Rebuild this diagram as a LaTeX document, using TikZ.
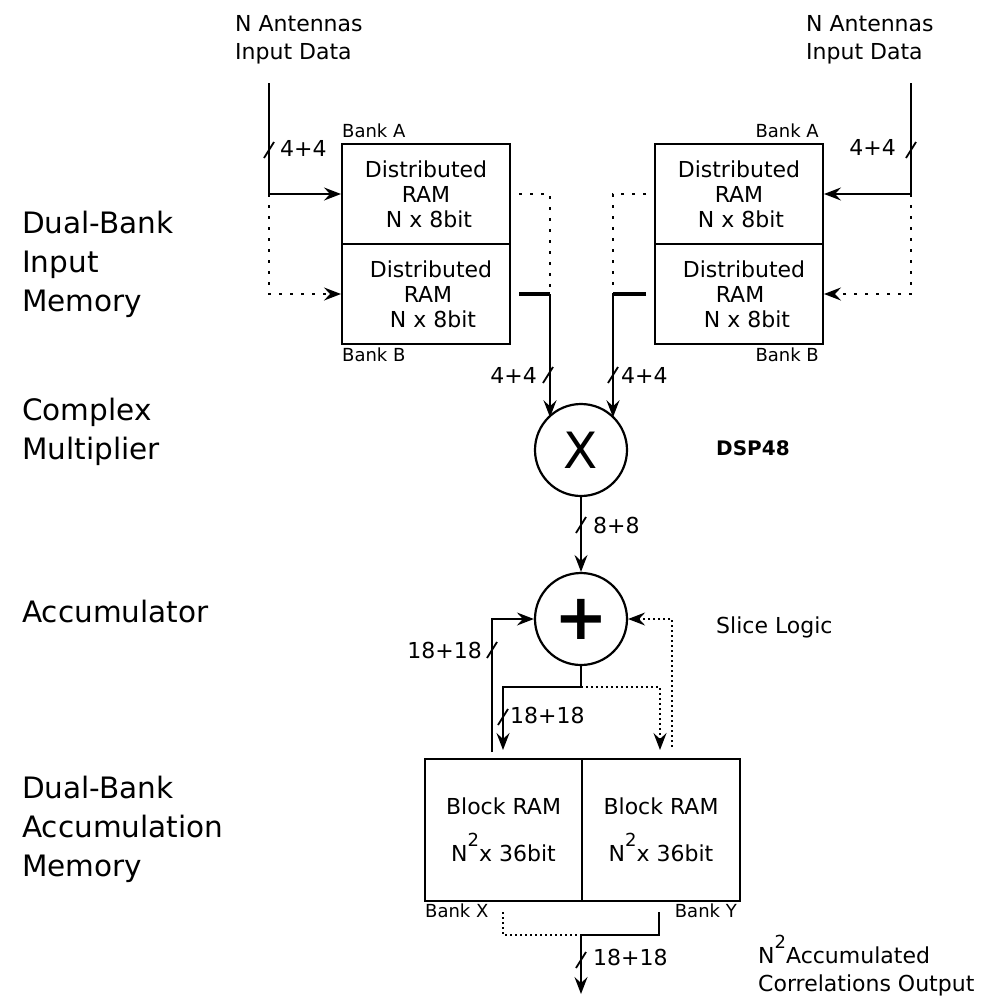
\documentclass[tikz,border=0pt]{standalone}
\usepackage{fontspec}
\setmainfont{DejaVu Sans}
\usetikzlibrary{arrows.meta,calc}
\newcommand{\sqN}{N\raisebox{15pt}{\fontsize{18}{18}\selectfont 2}}
\tikzset{
  sig/.style={line width=1.8pt},
  tip/.style={-{Stealth[length=17pt,width=13pt,inset=6pt]}},
  arr/.style={sig,tip},
  dotA/.style={line width=2.2pt, dash pattern=on 3pt off 8pt},
  dotB/.style={line width=1.8pt, dash pattern=on 1.7pt off 3.3pt},
  thickbus/.style={line width=3.8pt},
  membox/.style={draw, line width=2pt, minimum width=168pt, minimum height=100pt,
    inner sep=0pt, align=center, font=\fontsize{22}{25}\selectfont, anchor=north west},
  blkbox/.style={draw, line width=2pt, minimum height=142pt,
    inner sep=0pt, align=center, font=\fontsize{22}{47}\selectfont, anchor=north west},
  op/.style={draw, circle, line width=2.2pt, minimum size=92pt, inner sep=0pt},
  lbl/.style={font=\fontsize{22}{28}\selectfont, inner sep=0pt},
  bank/.style={font=\fontsize{18}{20}\selectfont, inner sep=0pt},
  side/.style={font=\fontsize{29.5}{39}\selectfont, inner sep=0pt, anchor=base west},
  busmark/.pic={\draw[line width=1.8pt] (-5,8) -- (5,-8);}
}
\begin{document}
\begin{tikzpicture}[x=1pt,y=-1pt]
\useasboundingbox (0,0) rectangle (985,997);

% side labels
\node[side] (sIn) at (22,233) {\begin{tabular}[t]{@{}l@{}}Dual-Bank\\Input\\Memory\end{tabular}};
\node[side] (sMul) at (22,420) {\begin{tabular}[t]{@{}l@{}}Complex\\Multiplier\end{tabular}};
\node[side] (sAcc) at (22,622) {Accumulator};
\node[side] (sMem) at (22,798) {\begin{tabular}[t]{@{}l@{}}Dual-Bank\\Accumulation\\Memory\end{tabular}};

% input labels
\node[lbl, anchor=base west] (antL) at (235,31) {\begin{tabular}[t]{@{}l@{}}N Antennas\\Input Data\end{tabular}};
\node[lbl, anchor=base west] (antR) at (806,31) {\begin{tabular}[t]{@{}l@{}}N Antennas\\Input Data\end{tabular}};

% memory boxes
\node[membox] (bA1) at (341,143) {Distributed\\RAM\hspace*{8pt}\\\hspace*{6pt}N x 8bit};
\node[membox] (bB1) at (341,243) {\hspace*{10pt}Distributed\\\hspace*{4pt}RAM\\\hspace*{14pt}N x 8bit};
\node[membox] (bA2) at (654,143) {Distributed\\RAM\hspace*{8pt}\\\hspace*{4pt}N x 8bit};
\node[membox] (bB2) at (654,243) {\hspace*{10pt}Distributed\\\hspace*{2pt}RAM\\\hspace*{16pt}N x 8bit};

\node[bank, anchor=base west] (kA1) at (342,137) {Bank A};
\node[bank, anchor=base west] (kB1) at (342,361) {Bank B};
\node[bank, anchor=base east] (kA2) at (819,137) {Bank A};
\node[bank, anchor=base east] (kB2) at (819,361) {Bank B};

% operators
\node[op, font=\fontsize{50}{50}\selectfont] (mul) at (581,450) {X};
\node[op, font=\fontsize{64}{64}\selectfont\bfseries] (acc) at (581,619) {+};
\node[font=\fontsize{20}{20}\selectfont\bfseries, inner sep=0pt, anchor=base west] (dsp) at (716,455) {DSP48};
\node[lbl, anchor=base west] (slice) at (716,633) {Slice Logic};

% accumulation memory
\node[blkbox, minimum width=157pt] (bX) at (424,758) {Block RAM\\\sqN x 36bit};
\node[blkbox, minimum width=158pt] (bY) at (581,758) {Block RAM\\\sqN x 36bit};
\node[bank, anchor=base west] (kX) at (425,917) {Bank X};
\node[bank, anchor=base east] (kY) at (737,917) {Bank Y};

\node[lbl, anchor=base west] (outlbl) at (758,963) {\begin{tabular}[t]{@{}l@{}}\sqN{}Accumulated\\Correlations Output\end{tabular}};

% --- left input
\coordinate (inL) at (269,83);
\coordinate (jL) at (inL |- bA1.west);
\draw[arr] (inL) -- (jL) -- (bA1.west);
\draw[dotA, tip] (jL) |- (bB1.west);
\pic at (269,150) {busmark};
\node[lbl, anchor=base west] (w44L) at (280,156) {4+4};

% --- right input
\coordinate (inR) at (911,83);
\coordinate (jR) at (inR |- bA2.east);
\draw[arr] (inR) -- (jR) -- (bA2.east);
\draw[dotA, tip] (jR) |- (bB2.east);
\pic at (911,150) {busmark};
\node[lbl, anchor=base east] (w44R) at (896,155) {4+4};

% --- memory outputs to multiplier
\coordinate (oL) at ($(bB1.east)+(39,0)$);
\draw[dotA] ($(bA1.east)+(8,0)$) -| (oL);
\draw[thickbus] ($(bB1.east)+(8,0)$) -- (oL);
\draw[arr] (oL) -- (oL |- mul.136);
\pic at (548,375) {busmark};
\node[lbl, anchor=base east] (w44mL) at (537,383) {4+4};

\coordinate (oR) at ($(bB2.west)+(-41,0)$);
\draw[dotA] ($(bA2.west)+(-8,0)$) -| (oR);
\draw[thickbus] ($(bB2.west)+(-8,0)$) -- (oR);
\draw[arr] (oR) -- (oR |- mul.44);
\pic at (613,375) {busmark};
\node[lbl, anchor=base west] (w44mR) at (621,383) {4+4};

% --- multiplier to accumulator
\draw[arr] (mul.south) -- (acc.north);
\pic at (581,525) {busmark};
\node[lbl, anchor=base west] (w88) at (593,533) {8+8};

% --- accumulator outputs
\coordinate (aJ) at ($(acc.south)+(0,21)$);
\coordinate (aLe) at (503,750);
\coordinate (aRe) at (660,750);
\draw[arr] (acc.south) -- (aJ) -| (aLe);
\draw[dotB, tip] (aJ) -| (aRe);
\pic at (503,717) {busmark};
\node[lbl, anchor=base west] (w18b) at (510,723) {18+18};

% --- feedback
\coordinate (fbL) at (492,752);
\coordinate (fbR) at (672,747);
\draw[arr] (fbL) |- (acc.west);
\draw[dotB, tip] (fbR) |- (acc.east);
\pic at (492,650) {busmark};
\node[lbl, anchor=base east] (w18a) at (482,658) {18+18};

% --- final output
\coordinate (xo) at (503,912);
\coordinate (yo) at (659,912);
\coordinate (bj) at (581,935);
\coordinate (outE) at (581,994);
\draw[dotB] (xo) |- (bj);
\draw[sig] (yo) |- (bj);
\draw[arr] (bj) -- (outE);
\pic at (581,960) {busmark};
\node[lbl, anchor=base west] (w18c) at (593,965) {18+18};
\end{tikzpicture}
\end{document}
